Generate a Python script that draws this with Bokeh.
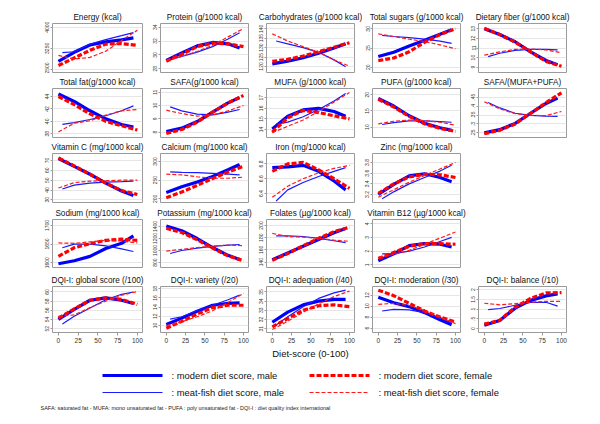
from bokeh.plotting import figure
from bokeh.layouts import column, row
from bokeh.models import Range1d, FixedTicker, Label
from bokeh.core.properties import value
from bokeh.embed import file_html
from bokeh.resources import INLINE

FONT = "Liberation Sans"

TITLES = [
    "Energy (kcal)", "Protein (g/1000 kcal)", "Carbohydrates (g/1000 kcal)",
    "Total sugars (g/1000 kcal)", "Dietary fiber (g/1000 kcal)",
    "Total fat(g/1000 kcal)", "SAFA(g/1000 kcal)", "MUFA (g/1000 kcal)",
    "PUFA (g/1000 kcal)", "SAFA/(MUFA+PUFA)",
    "Vitamin C (mg/1000 kcal)", "Calcium (mg/1000 kcal)", "Iron (mg/1000 kcal)",
    "Zinc (mg/1000 kcal)",
    "Sodium (mg/1000 kcal)", "Potassium (mg/1000 kcal)", "Folates (\u00b5g/1000 kcal)",
    "Vitamin B12 (\u00b5g/1000 kcal)",
    "DQI-I: global score (/100)", "DQI-I: variety (/20)", "DQI-I: adequation (/40)",
    "DQI-I: moderation (/30)", "DQI-I: balance (/10)",
]
ROW_SIZES = [5, 5, 4, 4, 5]

YTICKS = [
    [2500, 3250, 4000], [28, 30, 32, 34], [120, 125, 130, 135, 140], [20, 25, 30], [9, 10, 11, 12, 13],
    [38, 40, 42, 44], [8, 9, 10, 11], [14, 15, 16, 17], [10, 15, 20], [0.25, 0.3, 0.35, 0.4, 0.45],
    [30, 40, 50, 60, 70], [200, 250, 300], [6.4, 6.6, 6.8], [3.2, 3.4, 3.6, 3.8],
    [1600, 1650, 1700], [800, 1000, 1200, 1400], [140, 160, 180, 200], [1, 2, 3, 4],
    [52, 54, 56, 58, 60], [10, 12, 14, 16, 18], [31, 32, 33, 34, 35], [6, 8, 10, 12], [0, 0.5, 1, 1.5, 2],
]
YTICK_LABELS = [
    ["2500", "3250", "4000"], ["28", "30", "32", "34"], ["120", "125", "130", "135", "140"], ["20", "25", "30"], ["9", "10", "11", "12", "13"],
    ["38", "40", "42", "44"], ["8", "9", "10", "11"], ["14", "15", "16", "17"], ["10", "15", "20"], [".25", ".3", ".35", ".4", ".45"],
    ["30", "40", "50", "60", "70"], ["200", "250", "300"], ["6.4", "6.6", "6.8"], ["3.2", "3.4", "3.6", "3.8"],
    ["1600", "1650", "1700"], ["800", "1000", "1200", "1400"], ["140", "160", "180", "200"], ["1", "2", "3", "4"],
    ["52", "54", "56", "58", "60"], ["10", "12", "14", "16", "18"], ["31", "32", "33", "34", "35"], ["6", "8", "10", "12"], ["0", ".5", "1", "1.5", "2"],
]
YRANGES = [
    (2394, 4131), (27.47, 34.53), (116.8, 142.8), (18.6, 31.4), (8.45, 13.55),
    (37.4, 45.29), (7.6, 11.28), (13.24, 17.88), (6.8, 21.9), (0.224, 0.499),
    (27.3, 77.1), (190, 321.4), (6.28, 6.94), (3.05, 3.97),
    (1587, 1716), (717, 1517), (131.3, 209.8), (0.8, 4.31),
    (51.16, 61.2), (8.48, 18.48), (30.58, 35.6), (5.18, 13.57), (-0.2, 2.16),
]
XTICKS = [0, 25, 50, 75, 100]

# diet-score positions of the read points
X_MODERN_MALE = [0, 20, 40, 60, 80, 95]
X_MEATFISH_MALE = [5, 20, 40, 60, 80, 95]
X_MODERN_FEMALE = [0, 20, 40, 60, 80, 100]
X_MEATFISH_FEMALE = [0, 20, 40, 60, 80, 100]

MODERN_MALE = [
    [2790, 3110, 3370, 3480, 3550, 3620],
    [29.2, 30.3, 31.3, 31.8, 31.6, 31.0],
    [121.4, 122.8, 124.6, 127.0, 129.8, 132.0],
    [22.8, 23.9, 25.5, 27.0, 28.6, 29.8],
    [13.0, 12.4, 11.65, 10.6, 9.7, 9.25],
    [44.4, 43.2, 41.7, 40.4, 39.5, 39.1],
    [8.05, 8.3, 8.8, 9.5, 10.2, 10.6],
    [14.05, 15.25, 15.85, 16.0, 15.7, 15.25],
    [18.8, 16.5, 13.5, 11.2, 9.8, 9.0],
    [0.25, 0.268, 0.303, 0.36, 0.415, 0.445],
    [72, 64, 56, 47, 39, 34.5],
    [217, 232, 245, 260, 278, 292],
    [6.75, 6.76, 6.78, 6.7, 6.57, 6.45],
    [3.2, 3.39, 3.55, 3.59, 3.52, 3.44],
    [1597, 1605, 1617, 1638, 1652, 1672],
    [1410, 1330, 1200, 1050, 920, 850],
    [144, 155, 166, 177, 188, 195],
    [1.3, 1.8, 2.4, 2.55, 2.5, 2.3],
    [54, 56.2, 58.2, 58.7, 58.2, 57.5],
    [10.2, 11.6, 13.1, 14.4, 14.8, 14.9],
    [31.7, 32.8, 33.6, 34.0, 34.2, 34.2],
    [11.6, 10.6, 9.9, 8.8, 7.5, 6.6],
    [0.17, 0.42, 1.05, 1.45, 1.68, 1.78],
]
MEATFISH_MALE = [
    [3100, 3130, 3400, 3560, 3700, 3810],
    [29.3, 29.8, 30.4, 31.2, 32.3, 33.2],
    [133.5, 132.0, 130.0, 127.5, 123.5, 119.8],
    [28.3, 28.0, 27.7, 27.3, 26.8, 26.2],
    [10.1, 10.45, 10.75, 10.85, 10.85, 10.8],
    [39.5, 39.8, 40.3, 40.9, 41.7, 42.5],
    [9.9, 9.6, 9.35, 9.3, 9.5, 9.7],
    [14.5, 14.7, 15.2, 15.9, 16.7, 17.4],
    [10.8, 11.4, 11.9, 11.9, 11.7, 11.5],
    [0.42, 0.39, 0.36, 0.348, 0.344, 0.342],
    [41, 45, 47, 48, 48.5, 49],
    [272, 271, 270, 268, 266, 264],
    [6.3, 6.45, 6.55, 6.63, 6.7, 6.75],
    [3.12, 3.25, 3.4, 3.52, 3.64, 3.75],
    [1640, 1650, 1650, 1645, 1637, 1630],
    [950, 1000, 1040, 1070, 1090, 1100],
    [183, 183, 182, 179, 175, 172],
    [1.8, 1.82, 2.0, 2.3, 2.7, 3.0],
    [53.0, 54.7, 56.5, 58.3, 59.5, 60.0],
    [11.4, 11.9, 13.2, 14.4, 15.6, 16.6],
    [31.4, 32.3, 33.4, 34.3, 34.9, 35.2],
    [9.1, 9.4, 9.3, 8.8, 7.9, 6.9],
    [0.97, 1.03, 1.2, 1.35, 1.35, 1.15],
]
MODERN_FEMALE = [
    [2640, 2910, 3180, 3400, 3420, 3360],
    [29.1, 30.1, 31.2, 31.7, 31.6, 31.2],
    [122.7, 123.8, 125.5, 127.8, 130.2, 132.6],
    [21.7, 22.4, 24.0, 26.5, 28.5, 30.0],
    [13.05, 12.4, 11.6, 10.6, 9.6, 9.1],
    [44.0, 42.7, 41.2, 40.0, 39.3, 38.6],
    [7.9, 8.2, 8.75, 9.5, 10.2, 10.75],
    [13.75, 15.1, 15.8, 15.6, 15.3, 15.0],
    [18.6, 16.2, 13.3, 11.0, 9.6, 8.7],
    [0.245, 0.265, 0.30, 0.36, 0.42, 0.475],
    [72.5, 64.5, 56, 47, 39.5, 35.5],
    [203, 218, 236, 254, 272, 287],
    [6.7, 6.8, 6.82, 6.72, 6.6, 6.47],
    [3.22, 3.4, 3.53, 3.58, 3.57, 3.52],
    [1617, 1640, 1651, 1660, 1663, 1660],
    [1370, 1300, 1180, 1040, 910, 830],
    [143, 154, 167, 179, 190, 197],
    [1.45, 1.9, 2.35, 2.55, 2.55, 2.5],
    [54.3, 56.3, 58.2, 58.7, 58.4, 57.3],
    [9.4, 10.9, 12.5, 13.9, 14.4, 14.4],
    [31.2, 32.1, 33.0, 33.5, 33.6, 33.4],
    [12.9, 11.9, 10.5, 9.1, 8.0, 7.1],
    [0.23, 0.42, 1.1, 1.55, 1.83, 1.85],
]
MEATFISH_FEMALE = [
    [3000, 2870, 2930, 3150, 3530, 3890],
    [29.2, 29.8, 30.5, 31.4, 32.6, 33.8],
    [137.3, 133.5, 130.5, 127.5, 123.5, 120.2],
    [28.7, 28.0, 27.3, 26.7, 25.8, 24.8],
    [10.25, 10.6, 10.85, 10.9, 10.8, 10.5],
    [38.3, 39.7, 40.1, 41.0, 41.7, 41.9],
    [9.65, 9.4, 9.2, 9.3, 9.6, 10.0],
    [13.7, 14.3, 14.9, 15.7, 16.6, 17.5],
    [11.0, 11.8, 12.2, 12.0, 11.5, 10.6],
    [0.425, 0.385, 0.358, 0.348, 0.347, 0.37],
    [42, 47.5, 49, 49.5, 50, 50],
    [266, 264, 259, 255, 255, 258],
    [6.35, 6.5, 6.6, 6.68, 6.74, 6.78],
    [3.15, 3.29, 3.43, 3.56, 3.68, 3.8],
    [1653, 1652, 1656, 1660, 1658, 1653],
    [990, 1020, 1050, 1070, 1090, 1080],
    [187, 182, 181, 179, 176, 174],
    [1.55, 1.75, 2.05, 2.5, 2.95, 3.4],
    [54.7, 55.0, 56.6, 58.0, 59.3, 60.1],
    [10.0, 10.8, 11.9, 13.2, 15.0, 17.0],
    [30.9, 31.8, 32.8, 33.7, 34.5, 35.1],
    [10.3, 10.5, 10.1, 9.2, 8.0, 6.8],
    [1.3, 1.22, 1.28, 1.35, 1.4, 1.4],
]

LEGEND_LABELS = [": modern diet score, male", ": modern diet score, female",
                 ": meat-fish diet score, male", ": meat-fish diet score, female"]
XLABEL = "Diet-score (0-100)"
FOOTNOTE = ("SAFA: saturated fat - MUFA: mono unsaturated fat - PUFA : poly unsaturated fat - "
            "DQI-I : diet quality index international")

STYLE_MM = dict(line_color="#0000ff", line_width=3.2)
STYLE_MFM = dict(line_color="#1a1aff", line_width=1.2)
STYLE_MF = dict(line_color="#ff0000", line_width=3.2, line_dash="5 2")
STYLE_MFF = dict(line_color="#ff1a1a", line_width=1.2, line_dash="4 2")
STYLES = [STYLE_MM, STYLE_MF, STYLE_MFM, STYLE_MFF]

ROW_H = [73, 65, 66, 67, 90]
ROW_TOP = [23, 15, 15, 15, 15]
ROW_BB = [1, 1, 2, 4, 27]


def make_panel(i, r, c):
    left = 52 if c == 0 else 8
    p = figure(width=left + 98, height=ROW_H[r], x_range=Range1d(-7.5, 106.5),
               y_range=Range1d(*YRANGES[i]), output_backend="svg", toolbar_location=None,
               min_border_left=left, min_border_right=8, min_border_top=ROW_TOP[r],
               min_border_bottom=ROW_BB[r], title=TITLES[i])
    p.title.align = "center"
    p.title.text_font = FONT
    p.title.text_font_size = "8.2px"
    p.title.text_font_style = "normal"
    p.title.text_color = "#111111"
    p.title.standoff = 3
    p.outline_line_color = "#9a9a9a"
    p.background_fill_color = "white"
    p.border_fill_color = "white"
    p.xgrid.visible = False
    p.ygrid.grid_line_color = "#e6e6e6"
    p.yaxis.ticker = FixedTicker(ticks=YTICKS[i])
    p.yaxis.major_label_overrides = {t: s for t, s in zip(YTICKS[i], YTICK_LABELS[i])}
    p.yaxis.major_label_orientation = "vertical"
    p.yaxis.major_label_text_font = FONT
    p.yaxis.major_label_text_font_size = "5px"
    p.yaxis.major_label_text_color = "#333333"
    p.yaxis.major_label_standoff = 1
    p.yaxis.axis_line_color = None
    p.yaxis.major_tick_line_color = "#9a9a9a"
    p.yaxis.major_tick_in = 0
    p.yaxis.major_tick_out = 2
    p.yaxis.minor_tick_line_color = None
    if r == 4:
        p.xaxis.ticker = FixedTicker(ticks=XTICKS)
        p.xaxis.major_label_text_font = FONT
        p.xaxis.major_label_text_font_size = "6.5px"
        p.xaxis.major_label_text_color = "#333333"
        p.xaxis.major_label_standoff = 2
        p.xaxis.axis_line_color = None
        p.xaxis.major_tick_line_color = "#9a9a9a"
        p.xaxis.major_tick_in = 0
        p.xaxis.major_tick_out = 3
        p.xaxis.minor_tick_line_color = None
        if c == 2:
            p.xaxis.axis_label = XLABEL
            p.xaxis.axis_label_text_font = FONT
            p.xaxis.axis_label_text_font_size = "9.5px"
            p.xaxis.axis_label_text_font_style = "normal"
            p.xaxis.axis_label_text_color = "#111111"
            p.xaxis.axis_label_standoff = 2
    else:
        p.xaxis.visible = False
    p.line(X_MODERN_MALE, MODERN_MALE[i], **STYLE_MM)
    p.line(X_MEATFISH_MALE, MEATFISH_MALE[i], **STYLE_MFM)
    p.line(X_MODERN_FEMALE, MODERN_FEMALE[i], **STYLE_MF)
    p.line(X_MEATFISH_FEMALE, MEATFISH_FEMALE[i], **STYLE_MFF)
    return p


rows = []
k = 0
for r, n in enumerate(ROW_SIZES):
    figs = []
    for c in range(n):
        figs.append(make_panel(k, r, c))
        k += 1
    rows.append(row(*figs, spacing=0))

# legend block (pixel space of the legend figure, y measured from its top)
LEG_W, LEG_H = 580, 55
leg = figure(width=LEG_W, height=LEG_H, output_backend="svg", toolbar_location=None,
             min_border=0, x_range=Range1d(0, LEG_W), y_range=Range1d(LEG_H, 0))
leg.axis.visible = False
leg.grid.visible = False
leg.outline_line_color = None
leg.border_fill_color = "white"
LEG_SAMPLE_X = [[102, 162], [309, 369], [102, 162], [309, 369]]
LEG_ROW_Y = [14, 14, 31, 31]
LEG_TEXT_X = [171, 378, 171, 378]
LEG_ORDER = [0, 1, 2, 3]
for j in LEG_ORDER:
    leg.line(LEG_SAMPLE_X[j], [LEG_ROW_Y[j], LEG_ROW_Y[j]], **STYLES[j])
leg.text(x=LEG_TEXT_X, y=LEG_ROW_Y, text=LEGEND_LABELS, text_font=value(FONT),
         text_font_size="9.4px", text_baseline="middle", text_color="#111111")
leg.add_layout(Label(x=40, y=LEG_H - 46, x_units="screen", y_units="screen", text=FOOTNOTE,
                     text_font=FONT, text_font_size="5.5px", text_baseline="middle",
                     text_color="#222222"))

layout = column(*rows, leg, spacing=0)
open("out.html", "w").write(file_html(layout, INLINE))
